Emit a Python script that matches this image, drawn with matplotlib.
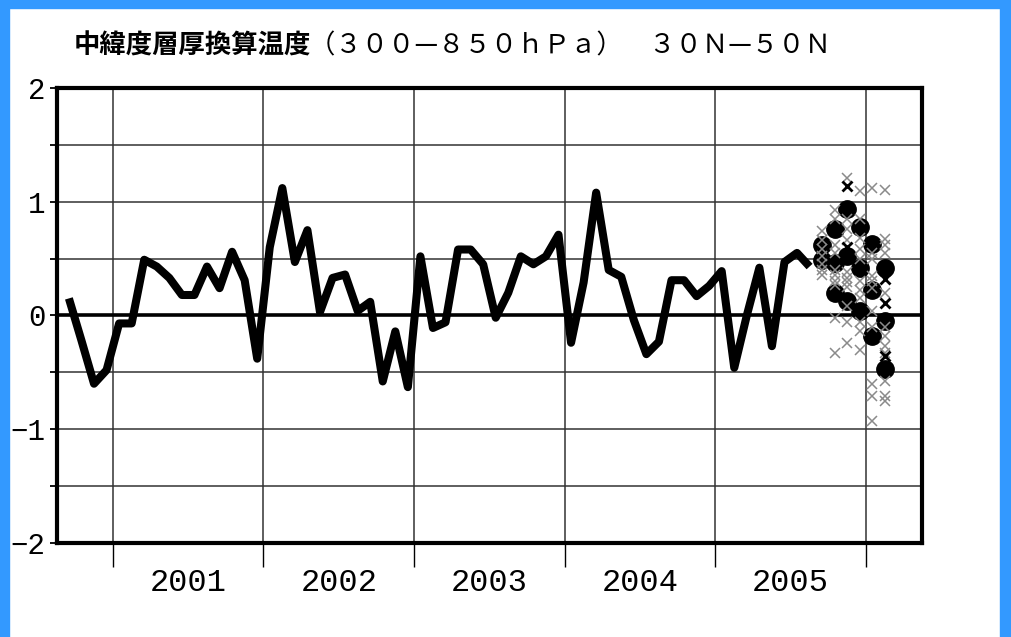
import numpy as np
import pandas as pd
import matplotlib
matplotlib.use('Agg')
import matplotlib.pyplot as plt
from matplotlib.patches import Rectangle

# observed monthly anomalies, Sep 2000 - Aug 2005
obs_start = '2000-09'
obs = [0.15, -0.22, -0.6, -0.48,
       -0.07, -0.07, 0.49, 0.43, 0.33, 0.18, 0.18, 0.43, 0.24, 0.56, 0.31, -0.38,
       0.6, 1.12, 0.47, 0.75, 0.03, 0.33, 0.36, 0.04, 0.12, -0.58, -0.14, -0.63,
       0.52, -0.11, -0.06, 0.58, 0.58, 0.45, -0.02, 0.2, 0.52, 0.45, 0.52, 0.71,
       -0.24, 0.29, 1.08, 0.4, 0.34, -0.04, -0.34, -0.23, 0.31, 0.31, 0.17, 0.26,
       0.39, -0.46, 0.0, 0.42, -0.27, 0.47, 0.55, 0.43]

# forecast months
fc_months = ['2005-09', '2005-10', '2005-11', '2005-12', '2006-01', '2006-02']

# forecast means (dots), three runs
run_a = [0.62, 0.76, 0.94, 0.78, 0.63, 0.42]
run_b = [0.49, 0.46, 0.52, 0.42, 0.22, -0.05]
run_c = [np.nan, 0.2, 0.13, 0.04, -0.18, -0.47]

# ensemble members (crosses) per forecast month
members = {
    '2005-09': [0.74, 0.66, 0.58, 0.52, 0.45, 0.40, 0.36],
    '2005-10': [0.93, 0.85, 0.62, 0.55, 0.40, 0.36, 0.30, 0.27, -0.02, -0.33],
    '2005-11': [1.21, 0.85, 0.76, 0.66, 0.38, 0.33, 0.29, 0.25, 0.08, -0.06, -0.24],
    '2005-12': [1.09, 0.85, 0.68, 0.58, 0.50, 0.30, 0.22, 0.15, -0.06, -0.14, -0.30],
    '2006-01': [1.12, 0.55, 0.50, 0.35, 0.30, 0.24, 0.04, -0.10, -0.60, -0.71, -0.93],
    '2006-02': [1.10, 0.67, 0.62, 0.55, 0.20, -0.10, -0.18, -0.27, -0.33, -0.58, -0.71, -0.75],
}
# highlighted members (black crosses)
black_months = ['2005-11', '2005-11', '2006-02', '2006-02', '2006-02']
black_vals = [1.14, 0.60, 0.32, 0.11, -0.36]

years = ['2001', '2002', '2003', '2004', '2005']
yticks = [-2, -1, 0, 1, 2]


def month_pos(labels):
    p = pd.PeriodIndex(labels, freq='M')
    return np.asarray((p.year - 2001) * 12 + (p.month - 1) + 0.5, dtype=float)


obs_x = month_pos(pd.period_range(obs_start, periods=len(obs), freq='M').astype(str))
fc_x = month_pos(fc_months)

fig = plt.figure(figsize=(10.12, 6.37), dpi=100)
# blue page frame
for r in [(0, 0, 0.0085, 1), (0, 0.9875, 1, 0.0125), (0.988, 0, 0.012, 1)]:
    fig.patches.append(Rectangle(r[:2], r[2], r[3], transform=fig.transFigure,
                                 color='#3399FF', zorder=0))

ax = fig.add_axes([0.0563, 0.1476, 0.8547, 0.7143])

ax.plot(obs_x, obs, color='black', lw=5.8, solid_joinstyle='round',
        solid_capstyle='butt', zorder=3)

for run in [run_a, run_b, run_c]:
    ax.plot(fc_x, run, 'o', color='black', ms=12.5, zorder=4)

for m, vals in members.items():
    ax.plot(month_pos([m] * len(vals)), vals, 'x', color='#8a8a8a',
            ms=6.5, mew=1.1, zorder=5)
ax.plot(month_pos(black_months), black_vals, 'x', color='black',
        ms=6.5, mew=2, zorder=5)

ax.axhline(0, color='black', lw=2.6, zorder=2)

ax.set_xlim(-4.45, 64.45)
ax.set_ylim(-2, 2)

ax.set_xticks(np.arange(0, 61, 12))
ax.set_xticklabels([])
ax.set_xticks(np.arange(6, 60, 12), minor=True)
ax.set_xticklabels(years, minor=True, family='Liberation Mono', fontsize=23)
ax.tick_params(axis='x', which='major', direction='out', length=17, width=1.0)
ax.tick_params(axis='x', which='minor', length=0, pad=18)

ax.set_yticks(yticks)
ax.set_yticklabels([str(v).replace('-', '\u2212') for v in yticks],
                   family='Liberation Mono', fontsize=21)
ax.set_yticks(np.arange(-1.5, 2, 1), minor=True)
ax.tick_params(axis='y', which='both', direction='out', length=5, width=1.3, pad=3)

ax.xaxis.grid(True, which='major', color='#333333', lw=1.1)
ax.yaxis.grid(True, which='both', color='#333333', lw=1.1)
ax.set_axisbelow(True)

for s in ax.spines.values():
    s.set_linewidth(3)
    s.set_zorder(6)

fig.text(0.073, 0.928, '中緯度層厚換算温度', fontsize=19, fontweight='bold',
         family=['Noto Sans CJK JP', 'DejaVu Sans'], va='center')
fig.text(0.305, 0.928, '（３００—８５０ｈＰａ）　３０Ｎ—５０Ｎ', fontsize=19,
         family=['Noto Sans CJK JP', 'DejaVu Sans'], va='center')

fig.savefig('out.png', dpi=100)
